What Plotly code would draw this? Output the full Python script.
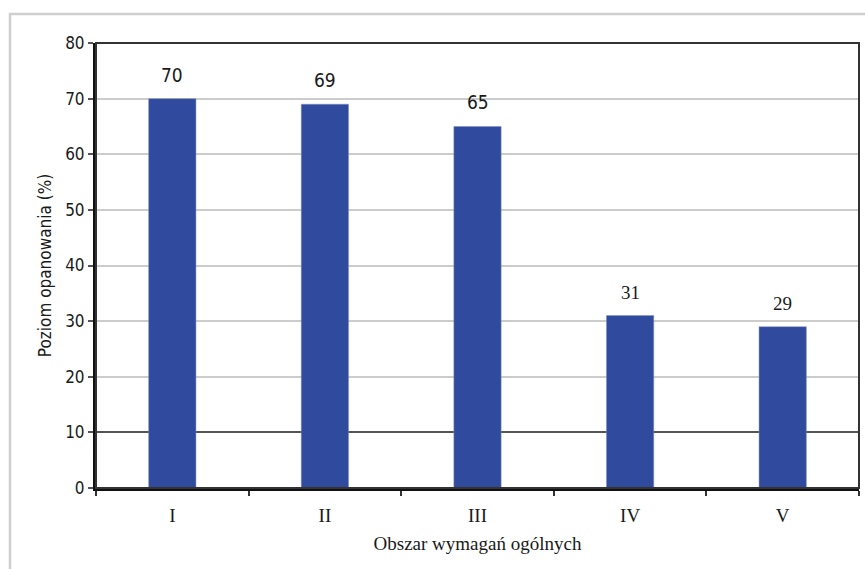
import plotly.graph_objects as go

categories = ["I", "II", "III", "IV", "V"]
values = [70, 69, 65, 31, 29]
NARROW = "DejaVu Sans Condensed, Liberation Sans Narrow, Arial Narrow, sans-serif"
SERIF = "Liberation Serif, Times New Roman, serif"
label_fonts = [NARROW, NARROW, NARROW, SERIF, SERIF]
y_ticks = [0, 10, 20, 30, 40, 50, 60, 70, 80]
light_grid = [20, 30, 40, 50, 60, 70]
dark_grid = [10]

fig = go.Figure()
fig.add_trace(go.Bar(x=categories, y=values, width=0.31,
                     marker=dict(color="#304B9E", line=dict(color="#8090c0", width=0.5)),
                     hoverinfo="skip"))
fig.add_trace(go.Scatter(x=categories, y=values, yaxis="y2", mode="markers",
                         marker=dict(opacity=0), hoverinfo="skip"))
fig.add_trace(go.Scatter(x=categories, y=values, yaxis="y3", mode="markers",
                         marker=dict(opacity=0), hoverinfo="skip"))

for c, v, f in zip(categories, values, label_fonts):
    fig.add_annotation(x=c, y=v, text=str(v), showarrow=False, yanchor="bottom", yshift=11,
                       font=dict(family=f, size=19, color="#1a1a1a"))

shapes = []
shapes.append(dict(type="rect", xref="paper", yref="paper", x0=(10 - 96) / 763, x1=1.2,
                   y0=-0.5, y1=(488 - 14) / 445, line=dict(color="#cfcfcf", width=2.5), layer="below"))
shapes.append(dict(type="rect", xref="paper", yref="paper", x0=0, x1=1, y0=0, y1=1,
                   line=dict(color="#333333", width=2)))

fig.update_layout(
    width=865, height=569,
    margin=dict(l=96, r=6, t=43, b=81),
    paper_bgcolor="white", plot_bgcolor="white",
    showlegend=False,
    shapes=shapes,
    xaxis=dict(
        showline=True, linecolor="#111", linewidth=3,
        ticks="outside", ticklen=5, tickwidth=1.5, tickcolor="#333",
        tickson="boundaries", ticklabelstandoff=8,
        tickfont=dict(family=SERIF, size=19, color="#1a1a1a"),
        title=dict(text="Obszar wymagań ogólnych", standoff=12,
                   font=dict(family=SERIF, size=19, color="#1a1a1a")),
        showgrid=False,
    ),
    yaxis=dict(
        range=[0, 80], tickvals=y_ticks,
        showline=True, linecolor="#111", linewidth=3,
        ticks="outside", ticklen=5, tickwidth=1.5, tickcolor="#555",
        tickfont=dict(family=NARROW, size=17, color="#1a1a1a"),
        showgrid=False,
        zeroline=False,
        title=dict(text="Poziom opanowania (%)", standoff=10,
                   font=dict(family=NARROW, size=17, color="#1a1a1a")),
    ),
    yaxis2=dict(
        range=[0, 80], overlaying="y", side="right", tickvals=light_grid + dark_grid,
        showticklabels=False, ticks="", showline=False, zeroline=False,
        showgrid=True, gridcolor="#cccccc", gridwidth=1.5,
    ),
    yaxis3=dict(
        range=[0, 80], overlaying="y", side="right", tickvals=dark_grid,
        showticklabels=False, ticks="", showline=False, zeroline=False,
        showgrid=True, gridcolor="#555555", gridwidth=1.5,
    ),
)

fig.write_html("out.html")
